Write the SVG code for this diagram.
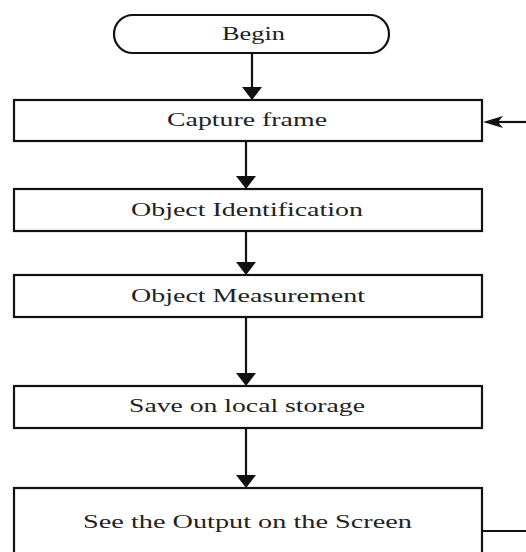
<svg xmlns="http://www.w3.org/2000/svg" width="526" height="552" viewBox="0 0 526 552">
<style>
.box{fill:#fff;stroke:#111;stroke-width:2.2}
.lbl{font-family:"Liberation Serif","Times New Roman",serif;font-size:18px;fill:#222;text-anchor:middle}
.ln{stroke:#111;stroke-width:2.2;fill:none}
.hd{fill:#111}
</style>
<rect width="526" height="552" fill="#fff"/>
<g id="connectors">
<line class="ln" x1="252" y1="53" x2="252" y2="88"/>
<polygon class="hd" points="242,87 262,87 252,100"/>
<line class="ln" x1="246" y1="141" x2="246" y2="177"/>
<polygon class="hd" points="236,176 256,176 246,189"/>
<line class="ln" x1="246" y1="231" x2="246" y2="263"/>
<polygon class="hd" points="236,262 256,262 246,275"/>
<line class="ln" x1="246" y1="317" x2="246" y2="374"/>
<polygon class="hd" points="236,373 256,373 246,386"/>
<line class="ln" x1="246" y1="428" x2="246" y2="476"/>
<polygon class="hd" points="236,475 256,475 246,488"/>
<line class="ln" x1="526" y1="122" x2="496" y2="122"/>
<path class="hd" d="M483,122 L503,116 L498,122 L503,128 Z"/>
<line class="ln" x1="482" y1="531" x2="526" y2="531"/>
</g>
<g id="begin">
<rect class="box" x="114" y="15" width="275" height="38" rx="19" ry="19"/>
<text class="lbl" x="253.5" y="40" textLength="63" lengthAdjust="spacingAndGlyphs">Begin</text>
</g>
<g id="capture">
<rect class="box" x="14" y="100" width="468" height="41"/>
<text class="lbl" x="247" y="126" textLength="160" lengthAdjust="spacingAndGlyphs">Capture frame</text>
</g>
<g id="identification">
<rect class="box" x="14" y="189" width="468" height="42"/>
<text class="lbl" x="247" y="216" textLength="232" lengthAdjust="spacingAndGlyphs">Object Identification</text>
</g>
<g id="measurement">
<rect class="box" x="14" y="275" width="468" height="42"/>
<text class="lbl" x="248" y="302" textLength="234" lengthAdjust="spacingAndGlyphs">Object Measurement</text>
</g>
<g id="save">
<rect class="box" x="14" y="386" width="468" height="42"/>
<text class="lbl" x="247" y="412" textLength="236" lengthAdjust="spacingAndGlyphs">Save on local storage</text>
</g>
<g id="output">
<rect class="box" x="14" y="488" width="468" height="80"/>
<text class="lbl" x="247.5" y="528" textLength="329" lengthAdjust="spacingAndGlyphs">See the Output on the Screen</text>
</g>
</svg>
